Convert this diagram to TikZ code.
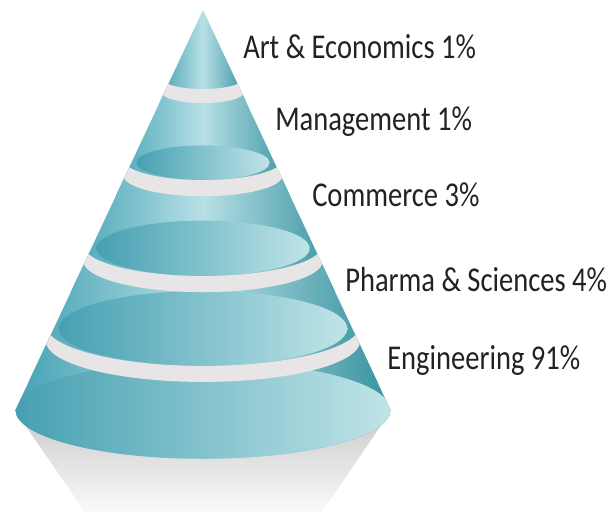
\documentclass[tikz,border=0pt]{standalone}
\usepackage{fontspec}
\usepackage{graphicx}
\newfontfamily\labelfont{Carlito}

\definecolor{bodydark}{HTML}{45A2B4}
\definecolor{bodylight}{HTML}{B8E0E6}
\definecolor{bodyedge}{HTML}{36929F}
\definecolor{facedark}{HTML}{46A0B2}
\definecolor{facelight}{HTML}{C0E4E8}
\definecolor{bandgray}{HTML}{E7E5E5}
\definecolor{labelgray}{HTML}{222222}

\tikzset{
  layer/.style={left color=bodydark, right color=bodyedge, middle color=bodylight},
  face/.style={left color=facedark, right color=facelight},
  band/.style={fill=bandgray},
  lbl/.style={anchor=base west, inner sep=0pt, text=labelgray,
    font=\labelfont\fontsize{21.4}{26}\selectfont}
}

\begin{document}
\begin{tikzpicture}[x=0.75pt,y=-0.75pt]
\useasboundingbox (0,0) rectangle (614,512);
% shadow under the cone
\shade[top color=black!20, bottom color=black!2] (18,415) -- (388,415) -- (322,512) -- (85,512) -- cycle;
\begin{scope}
\clip (203,10) -- (390.5,410) arc[start angle=0,end angle=180,x radius=187.5,y radius=48.75] -- cycle;
% layers, top to bottom
\shade[layer] (203,10) -- (246.6,103) -- (159.4,103) -- cycle;
\shade[layer] (162.3,78.5) arc[start angle=180,end angle=0,x radius=40.7,y radius=10.6] -- (295,196) -- (111,196) -- cycle;
\shade[layer] (123.4,159.5) arc[start angle=180,end angle=0,x radius=79.6,y radius=20.7] -- (340,292) -- (66,292) -- cycle;
\shade[layer] (83.3,245) arc[start angle=180,end angle=0,x radius=119.7,y radius=31.1] -- (382,382) -- (24,382) -- cycle;
\shade[layer] (45.8,325) arc[start angle=180,end angle=0,x radius=157.2,y radius=40.9] -- (390.5,410) arc[start angle=0,end angle=180,x radius=187.5,y radius=48.75] -- cycle;
% faces
\shade[face] (203,410) ellipse[x radius=187.5,y radius=48.75];
\shade[face] (203,328.5) ellipse[x radius=144.3,y radius=37.5];
\shade[face] (203,248.3) ellipse[x radius=106.7,y radius=27.7];
\shade[face] (203,162.7) ellipse[x radius=66.6,y radius=17.3];
% gaps between the layers
\fill[band] (162.3,92.5) arc[start angle=180,end angle=0,x radius=40.7,y radius=10.6] -- (243.7,78.5) arc[start angle=0,end angle=180,x radius=40.7,y radius=10.6] -- cycle;
\fill[band] (123.4,175.5) arc[start angle=180,end angle=0,x radius=79.6,y radius=20.7] -- (282.6,159.5) arc[start angle=0,end angle=180,x radius=79.6,y radius=20.7] -- cycle;
\fill[band] (83.3,261) arc[start angle=180,end angle=0,x radius=119.7,y radius=31.1] -- (322.7,245) arc[start angle=0,end angle=180,x radius=119.7,y radius=31.1] -- cycle;
\fill[band] (45.8,341) arc[start angle=180,end angle=0,x radius=157.2,y radius=40.9] -- (360.2,325) arc[start angle=0,end angle=180,x radius=157.2,y radius=40.9] -- cycle;
\end{scope}
% labels
\node[lbl] (art) at (243,58) {\scalebox{1}[1.22]{Art \& Economics 1\%}};
\node[lbl] (mgmt) at (275,130) {\scalebox{1}[1.22]{Management 1\%}};
\node[lbl] (comm) at (312,206) {\scalebox{1}[1.22]{Commerce 3\%}};
\node[lbl] (pharma) at (345,291) {\scalebox{1}[1.22]{Pharma \& Sciences 4\%}};
\node[lbl] (engg) at (387,369) {\scalebox{1}[1.22]{Engineering 91\%}};
\end{tikzpicture}
\end{document}
